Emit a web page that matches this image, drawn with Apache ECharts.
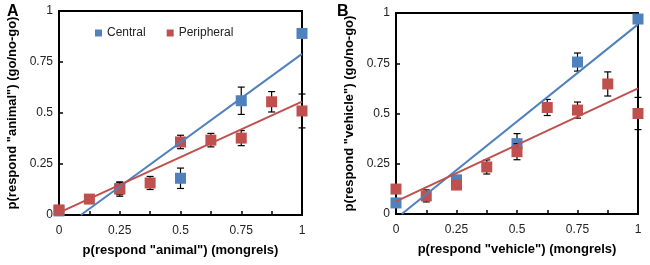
<!DOCTYPE html>
<html>
<head>
<meta charset="utf-8">
<script src="https://cdn.jsdelivr.net/npm/echarts@6/dist/echarts.min.js"></script>
<style>
  html, body { margin: 0; padding: 0; background: #fff; }
  #chart { width: 650px; height: 265px; }
</style>
</head>
<body>
<div id="chart"></div>
<script>
// proportions for the mongrel levels
const levelsCentral = [0, 0.25, 0.5, 0.75, 1];
const levelsPeripheral = [0, 0.125, 0.25, 0.375, 0.5, 0.625, 0.75, 0.875, 1];
const xTickLabels = [0, 0.25, 0.5, 0.75, 1];

// panel A - animal
const animalCentral = [0.02, 0.13, 0.18, 0.56, 0.89];
const animalCentralErr = [0.01, 0.03, 0.05, 0.067, 0.02];
const animalPeripheral = [0.025, 0.078, 0.127, 0.157, 0.358, 0.367, 0.377, 0.555, 0.51];
const animalPeripheralErr = [0.01, 0.01, 0.035, 0.032, 0.033, 0.033, 0.037, 0.05, 0.083];

// panel B - vehicle
const vehicleCentral = [0.055, 0.17, 0.35, 0.756, 0.97];
const vehicleCentralErr = [0.02, 0.02, 0.05, 0.045, 0.01];
const vehiclePeripheral = [0.124, 0.09, 0.144, 0.234, 0.31, 0.53, 0.517, 0.647, 0.5];
const vehiclePeripheralErr = [0.01, 0.03, 0.02, 0.035, 0.04, 0.04, 0.04, 0.06, 0.08];

const BLUE = "#4f81bd";
const RED = "#c0504d";
const FONT = "'Liberation Sans', Arial, sans-serif";

// least squares trend line, clipped at y = 0
function fitLine(xs, ys) {
  const n = xs.length;
  const mx = xs.reduce((a, b) => a + b, 0) / n;
  const my = ys.reduce((a, b) => a + b, 0) / n;
  let sxy = 0, sxx = 0;
  xs.forEach((x, i) => {
    sxy += (x - mx) * (ys[i] - my);
    sxx += (x - mx) * (x - mx);
  });
  const k = sxy / sxx;
  const b = my - k * mx;
  const x0 = b < 0 ? -b / k : 0;
  return [[x0, k * x0 + b], [1, k + b]];
}

function errorSeries(gi, xs, ys, errs, z) {
  return {
    type: "custom",
    xAxisIndex: gi,
    yAxisIndex: gi,
    z: z,
    silent: true,
    data: xs.map((x, i) => [x, ys[i] - errs[i], ys[i] + errs[i]]),
    encode: { x: 0, y: [1, 2] },
    renderItem: (params, api) => {
      const lo = api.coord([api.value(0), api.value(1)]);
      const hi = api.coord([api.value(0), api.value(2)]);
      const w = 3.5;
      const style = { stroke: "#000", lineWidth: 1.2 };
      return {
        type: "group",
        children: [
          { type: "line", shape: { x1: lo[0], y1: lo[1], x2: hi[0], y2: hi[1] }, style },
          { type: "line", shape: { x1: lo[0] - w, y1: lo[1], x2: lo[0] + w, y2: lo[1] }, style },
          { type: "line", shape: { x1: hi[0] - w, y1: hi[1], x2: hi[0] + w, y2: hi[1] }, style },
        ],
      };
    },
  };
}

function scatterSeries(gi, name, xs, ys, color, z) {
  return {
    name: name,
    type: "scatter",
    xAxisIndex: gi,
    yAxisIndex: gi,
    z: z,
    symbol: "rect",
    symbolSize: 11,
    itemStyle: { color: color, opacity: 1 },
    data: xs.map((x, i) => [x, ys[i]]),
  };
}

function trendSeries(gi, xs, ys, color, z) {
  return {
    type: "line",
    xAxisIndex: gi,
    yAxisIndex: gi,
    z: z,
    showSymbol: false,
    silent: true,
    lineStyle: { color: color, width: 2 },
    data: fitLine(xs, ys),
  };
}

function xAxisOpt(gi, name) {
  return {
    type: "value",
    gridIndex: gi,
    min: 0,
    max: 1,
    interval: 0.125,
    name: name,
    nameLocation: "middle",
    nameGap: 29,
    nameTextStyle: { fontSize: 13, fontWeight: "bold", color: "#000", fontFamily: FONT },
    axisLine: { lineStyle: { color: "#000", width: 2 } },
    axisTick: { inside: true, length: 4, lineStyle: { color: "#000", width: 1.5 } },
    axisLabel: {
      margin: 10,
      fontSize: 12,
      color: "#222",
      fontFamily: FONT,
      formatter: (v) => (xTickLabels.includes(v) ? String(v) : ""),
    },
    splitLine: { show: false },
  };
}

function yAxisOpt(gi, name, gap) {
  return {
    type: "value",
    gridIndex: gi,
    min: 0,
    max: 1,
    interval: 0.25,
    name: name,
    nameLocation: "middle",
    nameGap: gap,
    nameTextStyle: { fontSize: 13, fontWeight: "bold", color: "#000", fontFamily: FONT },
    axisLine: { lineStyle: { color: "#000", width: 2 } },
    axisTick: { inside: true, length: 4, lineStyle: { color: "#000", width: 1.5 } },
    axisLabel: { margin: 6, fontSize: 12, color: "#222", fontFamily: FONT },
    splitLine: { show: false },
  };
}

const chart = echarts.init(document.getElementById("chart"));

const option = {
  animation: false,
  backgroundColor: "#fff",
  title: [
    { text: "A", left: 2, top: -1, textStyle: { fontSize: 16, fontWeight: "bold", color: "#000", fontFamily: FONT } },
    { text: "B", left: 332, top: -1, textStyle: { fontSize: 16, fontWeight: "bold", color: "#000", fontFamily: FONT } },
  ],
  legend: {
    left: 90,
    top: 22,
    itemWidth: 7,
    itemHeight: 7,
    itemGap: 21,
    selectedMode: false,
    data: [
      { name: "Central", icon: "rect" },
      { name: "Peripheral", icon: "rect" },
    ],
    textStyle: { fontSize: 12, color: "#222", fontFamily: FONT },
  },
  grid: [
    { left: 59, top: 11, width: 243, height: 204, show: true, borderColor: "#000", borderWidth: 2 },
    { left: 396, top: 13, width: 242, height: 201, show: true, borderColor: "#000", borderWidth: 2 },
  ],
  xAxis: [
    xAxisOpt(0, 'p(respond "animal") (mongrels)'),
    xAxisOpt(1, 'p(respond "vehicle") (mongrels)'),
  ],
  yAxis: [
    yAxisOpt(0, 'p(respond "animal") (go/no-go)', 40),
    yAxisOpt(1, 'p(respond "vehicle") (go/no-go)', 40),
  ],
  series: [
    errorSeries(0, levelsCentral, animalCentral, animalCentralErr, 1),
    scatterSeries(0, "Central", levelsCentral, animalCentral, BLUE, 2),
    errorSeries(0, levelsPeripheral, animalPeripheral, animalPeripheralErr, 3),
    scatterSeries(0, "Peripheral", levelsPeripheral, animalPeripheral, RED, 4),
    trendSeries(0, levelsCentral, animalCentral, BLUE, 5),
    trendSeries(0, levelsPeripheral, animalPeripheral, RED, 5),

    errorSeries(1, levelsCentral, vehicleCentral, vehicleCentralErr, 1),
    scatterSeries(1, "Central", levelsCentral, vehicleCentral, BLUE, 2),
    errorSeries(1, levelsPeripheral, vehiclePeripheral, vehiclePeripheralErr, 3),
    scatterSeries(1, "Peripheral", levelsPeripheral, vehiclePeripheral, RED, 4),
    trendSeries(1, levelsCentral, vehicleCentral, BLUE, 5),
    trendSeries(1, levelsPeripheral, vehiclePeripheral, RED, 5),
  ],
};

chart.setOption(option);
</script>
</body>
</html>
